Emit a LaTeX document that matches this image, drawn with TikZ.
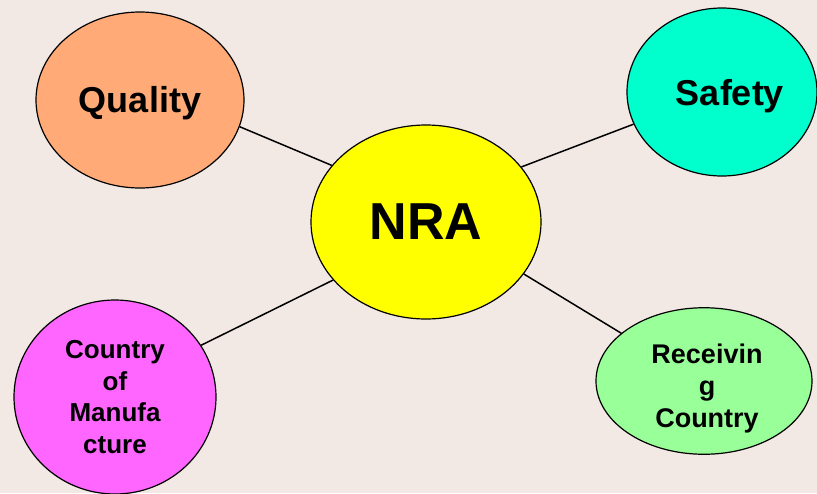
\documentclass[tikz,border=0pt]{standalone}
\usepackage{fontspec}
\setmainfont{Liberation Sans}
\usetikzlibrary{shapes.geometric}
\definecolor{bgc}{HTML}{F2E9E5}
\definecolor{qcol}{HTML}{FFAA77}
\definecolor{scol}{HTML}{00FFCC}
\definecolor{ncol}{HTML}{FFFF00}
\definecolor{mcol}{HTML}{FF66FF}
\definecolor{rcol}{HTML}{99FF99}
\tikzset{
  bubble/.style={ellipse, draw=black, line width=1.2pt, inner sep=0pt, align=center, font=\bfseries},
  link/.style={draw=black, line width=1.5pt}
}
\begin{document}
\begin{tikzpicture}[x=1pt,y=-1pt]
\fill[bgc] (0,0) rectangle (817,493);
\useasboundingbox (0,0) rectangle (817,493);
\node[bubble, fill=qcol, minimum width=208pt, minimum height=176pt, font=\bfseries\fontsize{36}{40}\selectfont] (q) at (140,100) {\rule{0pt}{32pt}Quality};
\node[bubble, fill=scol, minimum width=190pt, minimum height=168pt, font=\bfseries\fontsize{36}{40}\selectfont] (s) at (722,92) {\hspace*{16pt}\rule{0pt}{34pt}Safety};
\node[bubble, fill=ncol, minimum width=230pt, minimum height=194pt, font=\bfseries\fontsize{52}{56}\selectfont] (n) at (426,222) {NRA};
\node[bubble, fill=mcol, minimum width=202pt, minimum height=194pt, font=\bfseries\fontsize{26}{31.5}\selectfont] (m) at (115,397) {Country\\of\\Manufa\\cture};
\node[bubble, fill=rcol, minimum width=216pt, minimum height=138pt, font=\bfseries\fontsize{27}{32}\selectfont] (r) at (704,381) {\hspace*{6pt}\rule{0pt}{34pt}Receivin\\\hspace*{6pt}g\\\hspace*{6pt}Country};
\draw[link] (q.-15) -- (n.149);
\draw[link] (s.-160) -- (n.30);
\draw[link] (m.31) -- (n.212);
\draw[link] (r.150) -- (n.-28);
\end{tikzpicture}
\end{document}
